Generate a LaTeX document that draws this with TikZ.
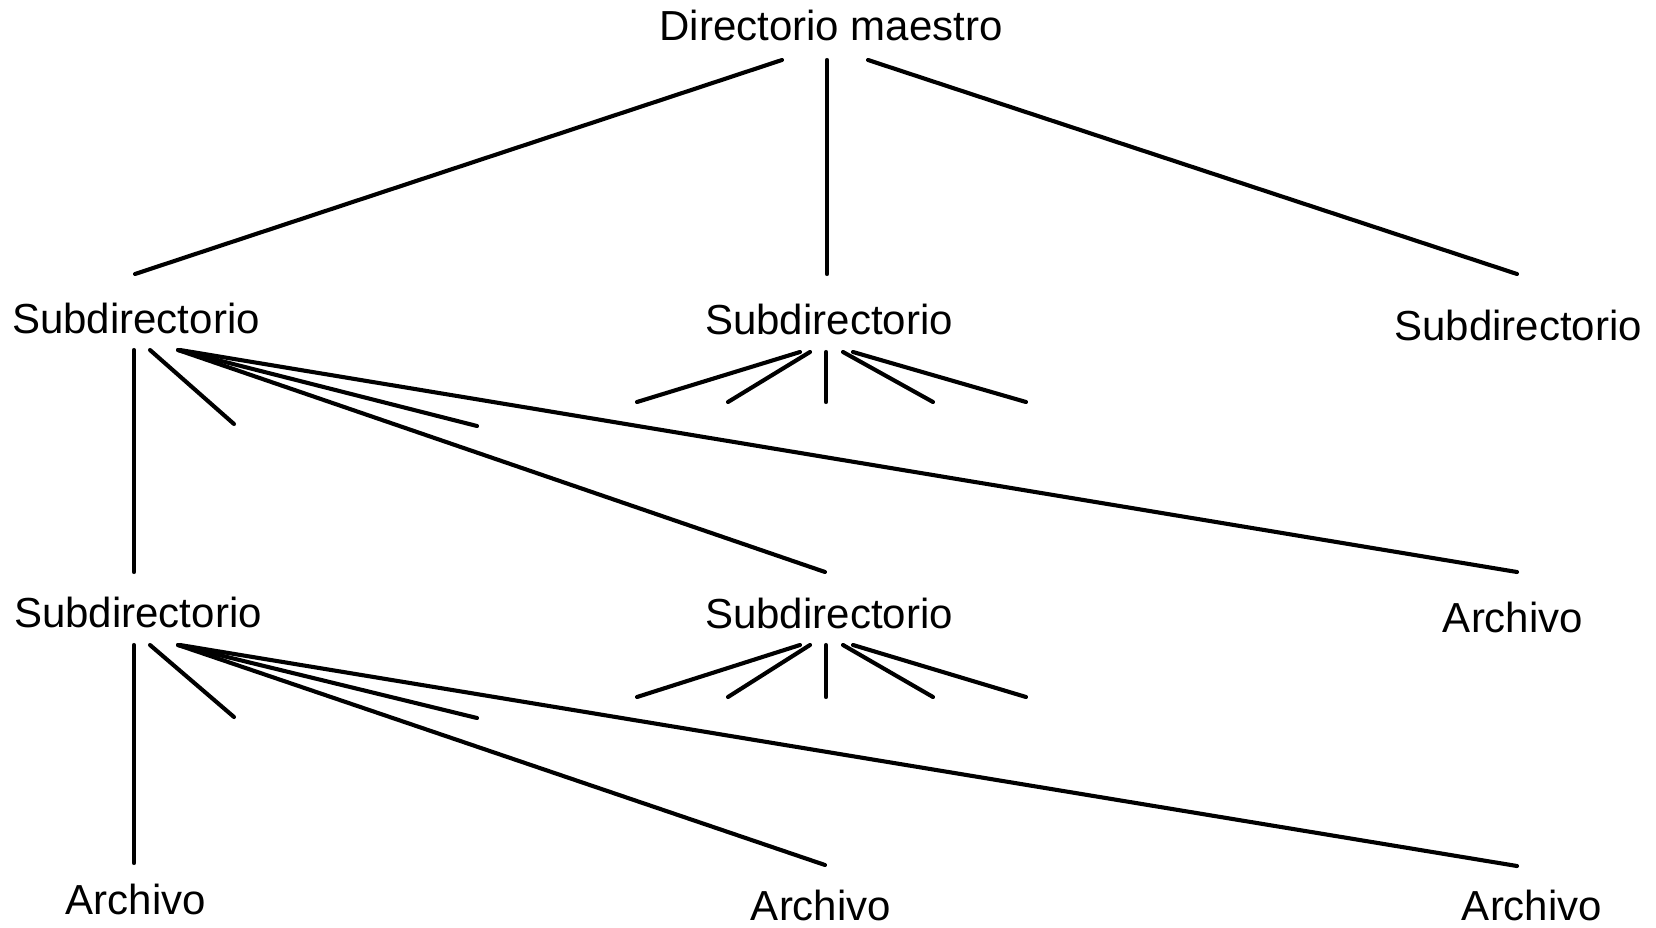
\documentclass[tikz,border=0pt]{standalone}
\usepackage{fontspec}
\setmainfont{Liberation Sans}
\begin{document}
\begin{tikzpicture}[x=1pt,y=-1pt,
  lbl/.style={anchor=base,inner sep=0pt,font=\fontsize{42}{50}\selectfont},
  conn/.style={line width=4.1pt,line cap=round}]
\useasboundingbox[fill=white] (0,0) rectangle (1656,928);
% labels
\node[lbl] (root) at (831,41) {Directorio maestro};
\node[lbl] (s1l) at (136,333) {Subdirectorio};
\node[lbl] (s1m) at (829,334) {Subdirectorio};
\node[lbl] (s1r) at (1518,340) {Subdirectorio};
\node[lbl] (s2l) at (138,627) {Subdirectorio};
\node[lbl] (s2m) at (829,628) {Subdirectorio};
\node[lbl] (a2r) at (1513,632) {Archivo};
\node[lbl] (a3l) at (136,914) {Archivo};
\node[lbl] (a3m) at (821,920) {Archivo};
\node[lbl] (a3r) at (1532,920) {Archivo};
% root connectors
\coordinate (r1) at (782,60); \coordinate (r2) at (827,60); \coordinate (r3) at (868,60);
\coordinate (t1l) at (135,274); \coordinate (t1m) at (827,274); \coordinate (t1r) at (1517,274);
\draw[conn] (r1) -- (t1l);
\draw[conn] (r2) -- (t1m);
\draw[conn] (r3) -- (t1r);
% level 1 left group
\coordinate (la0) at (134,350); \coordinate (la1) at (150,350); \coordinate (la2) at (178,350);
\coordinate (la3) at (180,350);
\coordinate (lb0) at (134,572); \coordinate (lb1) at (234,424); \coordinate (lb2) at (477,426);
\coordinate (lb3) at (825,572); \coordinate (lb4) at (1517,572);
\draw[conn] (la0) -- (lb0);
\draw[conn] (la1) -- (lb1);
\draw[conn] (la2) -- (lb2);
\draw[conn] (la2) -- (lb3);
\draw[conn] (la3) -- (lb4);
% level 1 middle fan
\coordinate (ma1) at (800,352); \coordinate (ma2) at (810,352); \coordinate (ma3) at (826,352);
\coordinate (ma4) at (843,352); \coordinate (ma5) at (853,352);
\coordinate (mb1) at (637,402); \coordinate (mb2) at (728,402); \coordinate (mb3) at (826,402);
\coordinate (mb4) at (933,402); \coordinate (mb5) at (1026,402);
\foreach \i in {1,...,5} {\draw[conn] (ma\i) -- (mb\i);}
% level 2 left group
\coordinate (lc0) at (134,645); \coordinate (lc1) at (150,645); \coordinate (lc2) at (178,645);
\coordinate (lc3) at (180,645);
\coordinate (ld0) at (134,863); \coordinate (ld1) at (234,717); \coordinate (ld2) at (477,718);
\coordinate (ld3) at (825,865); \coordinate (ld4) at (1517,866);
\draw[conn] (lc0) -- (ld0);
\draw[conn] (lc1) -- (ld1);
\draw[conn] (lc2) -- (ld2);
\draw[conn] (lc2) -- (ld3);
\draw[conn] (lc3) -- (ld4);
% level 2 middle fan
\coordinate (mc1) at (800,645); \coordinate (mc2) at (810,645); \coordinate (mc3) at (826,645);
\coordinate (mc4) at (843,645); \coordinate (mc5) at (853,645);
\coordinate (md1) at (637,697); \coordinate (md2) at (728,697); \coordinate (md3) at (826,697);
\coordinate (md4) at (933,697); \coordinate (md5) at (1026,697);
\foreach \i in {1,...,5} {\draw[conn] (mc\i) -- (md\i);}
\end{tikzpicture}
\end{document}
